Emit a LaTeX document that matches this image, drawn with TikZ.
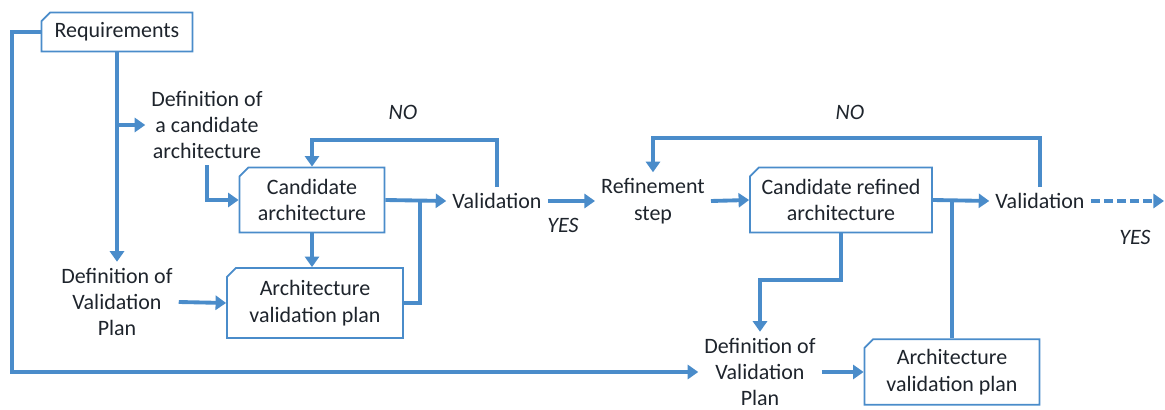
\documentclass[tikz,border=0pt]{standalone}
\usepackage{fontspec}
\setmainfont{Carlito}
\usepackage{tikz}
\usetikzlibrary{arrows.meta,shapes.misc}
\definecolor{lineblue}{RGB}{74,140,202}
\definecolor{txtgray}{RGB}{30,36,44}
\tikzset{
  doc/.style={draw=lineblue,line width=1pt,fill=white,chamfered rectangle,
    chamfered rectangle corners=north west,chamfered rectangle xsep=2.5pt,
    chamfered rectangle ysep=2.5pt,align=center,minimum height=1.3cm},
  txt/.style={align=center},
  conn/.style={draw=lineblue,line width=2.2pt},
  arr/.style={conn,-{Triangle[width=8pt,length=6pt]}},
  ans/.style={font=\fontsize{12.5}{15}\selectfont\itshape}
}
\begin{document}
\begin{tikzpicture}[every node/.style={text=txtgray,font=\fontsize{12.5}{15}\selectfont}]
   \useasboundingbox (0,0) rectangle (23.3,8.2);
   \draw (2.34,7.56) node[doc,minimum width=3.02cm,minimum height=0.78cm] (req) {Requirements};
   \draw (4.14,5.70) node[txt] (defcand) {Definition of\\a candidate\\architecture};
   \draw (6.24,4.20) node[doc,minimum width=2.9cm] (cand) {Candidate\\architecture};
   \draw (2.34,2.16) node[txt] (defval) {Definition of\\Validation\\Plan};
   \draw (6.30,2.14) node[doc,minimum width=3.52cm,minimum height=1.4cm] (avp) {Architecture\\validation plan};
   \draw (9.94,4.18) node (val) {Validation};
   \draw (13.06,4.18) node[txt] (refine) {Refinement\\step};
   \draw (16.82,4.20) node[doc,minimum width=3.64cm] (candref) {Candidate refined\\architecture};
   \draw (20.80,4.18) node (val2) {Validation};
   \draw (15.20,0.76) node[txt] (defval2) {Definition of\\Validation\\Plan};
   \draw (19.04,0.76) node[doc,minimum width=3.5cm] (avp2) {Architecture\\validation plan};

   \draw (8.06,5.96) node[ans] (no) {NO};
   \draw (11.26,3.70) node[ans] (yes) {YES};
   \draw (17.00,5.96) node[ans] (no2) {NO};
   \draw (22.70,3.46) node[ans] (yes2) {YES};

   \coordinate (rail) at (0.24,0.76);
   \coordinate (j1) at (8.40,4.20);
   \coordinate (loop) at (6.24,5.40);
   \coordinate (loop2) at (13.06,5.44);
   \coordinate (j2) at (15.20,2.60);
   \coordinate (fin) at (23.28,4.18);

   \draw[arr] (req.west) -| (rail) -- (defval2.west);
   \draw[arr] (req.south) -- (defval.north);
   \draw[arr] (req.south |- defcand.west) -- (defcand.west);
   \draw[arr] (defcand.south) |- (cand.west);
   \draw[arr] (cand.south) -- (cand.south |- avp.north);
   \draw[arr] (defval.east) -- (avp.west);
   \draw[arr] (cand.east) -- (val.west);
   \draw[conn] (avp.east) -| (j1);
   \draw[arr] (val.north) |- (loop) -- (cand.north);
   \draw[arr] (val.east) -- (refine.west);
   \draw[arr] (refine.east) -- (candref.west);
   \draw[arr] (candref.east) -- (val2.west);
   \draw[arr] (val2.north) |- (loop2) -- (refine.north);
   \draw[arr,dash pattern=on 5pt off 2.5pt] (val2.east) -- (fin);
   \draw[arr] (candref.south) |- (j2) -- (defval2.north);
   \draw[arr] (defval2.east) -- (avp2.west);
   \draw[conn] (avp2.north) -- (avp2.north |- val2.west);
\end{tikzpicture}
\end{document}
